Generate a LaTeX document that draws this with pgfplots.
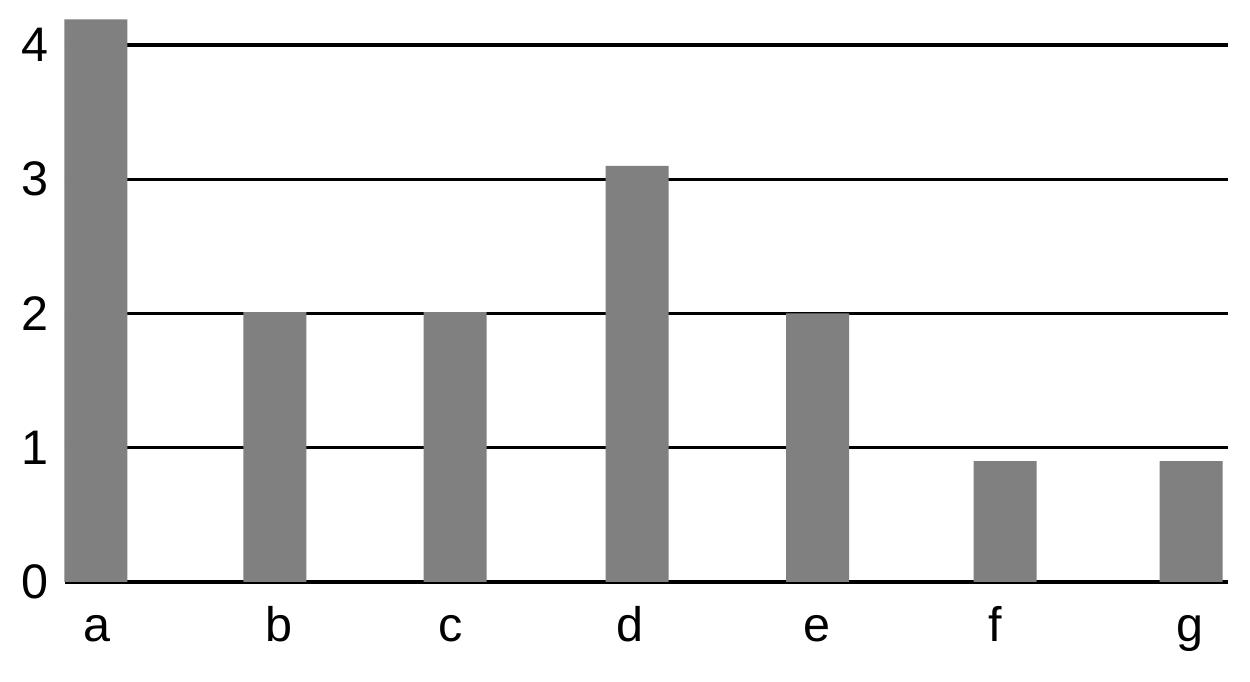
\documentclass[border=0pt]{standalone}
\usepackage{fontspec}
\setmainfont{Liberation Sans}
\usepackage{pgfplots}
\pgfplotsset{compat=1.18}
\definecolor{barfill}{RGB}{128,128,128}

\begin{document}
\begin{tikzpicture}
\begin{axis}[
    scale only axis,
    width=11.63cm, height=5.82cm,
    xmin=65, xmax=1228,
    ymin=0, ymax=4.335,
    axis line style={draw=none},
    tick style={draw=none},
    ytick={1,2,3,4},
    extra y ticks={0},
    extra y tick style={grid style={black, line width=1.2pt}},
    ymajorgrids,
    grid style={black, line width=0.95pt},
    xtick={97,279,451,630,817,995,1190},
    xticklabels={a,b,c,d,e,f,g},
    font=\fontsize{13.8}{16}\selectfont,
    /pgf/number format/assume math mode=true,
    yticklabel style={xshift=-0.4mm},
    xticklabel style={anchor=base, yshift=-5.9mm},
    clip=false,
]
\addplot[ybar, bar width=0.63cm, fill=barfill, draw=none] coordinates {
    (96,4.19) (275,2.01) (455,2.01) (637,3.10) (817.5,2.00) (1005,0.90) (1191,0.90)
};
\end{axis}
\useasboundingbox (current axis.south west) ++(-0.65cm,-0.99cm) rectangle ([xshift=0.22cm]current axis.north east);
\end{tikzpicture}
\end{document}
